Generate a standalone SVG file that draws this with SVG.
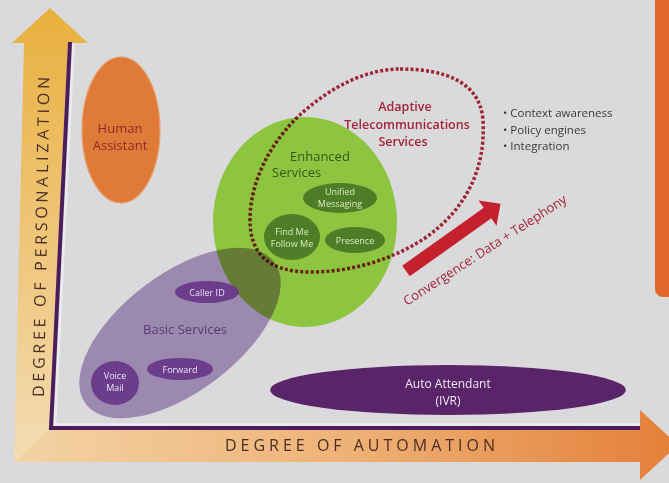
<svg xmlns="http://www.w3.org/2000/svg" width="669" height="483" viewBox="0 0 669 483">
  <defs>
    <linearGradient id="gradV" x1="0" y1="8" x2="0" y2="462" gradientUnits="userSpaceOnUse">
      <stop offset="0" stop-color="#e8b03e"/>
      <stop offset="0.55" stop-color="#efc77e"/>
      <stop offset="1" stop-color="#f4dcb4"/>
    </linearGradient>
    <linearGradient id="gradH" x1="14" y1="0" x2="678" y2="0" gradientUnits="userSpaceOnUse">
      <stop offset="0" stop-color="#f3d3a4"/>
      <stop offset="0.5" stop-color="#eeb277"/>
      <stop offset="1" stop-color="#e47f38"/>
    </linearGradient>
    <style>
      text { font-family: "Open Sans", "Liberation Sans", sans-serif; }
      .axis-label { font-size: 16px; fill: #4a2e24; }
      .big-node { font-size: 13px; }
      .small-node { font-size: 9px; text-anchor: middle; }
      .dark-green { fill: #4d7d26; }
      .dark-purple { fill: #6b3d8a; }
      .red-text { fill: #a4253a; }
    </style>
  </defs>

  <!-- background -->
  <rect x="0" y="0" width="669" height="483" fill="#dadadc"/>
  <rect x="655" y="-10" width="20" height="307" rx="8" fill="#e0662c"/>

  <!-- axes -->
  <g id="axis-personalization">
    <polygon points="12,43 50,8 88,43 68,43 49,430 14,462 24,43" fill="url(#gradV)"/>
    <text class="axis-label" transform="translate(44,397) rotate(-89)" textLength="320" lengthAdjust="spacing">DEGREE OF PERSONALIZATION</text>
  </g>
  <g id="axis-automation">
    <polygon points="14,462 49,430 640,430 640,410 678,445 640,480 640,462" fill="url(#gradH)"/>
    <text class="axis-label" x="225" y="451" textLength="270" lengthAdjust="spacing">DEGREE OF AUTOMATION</text>
  </g>
  <g id="axis-lines" fill="none">
    <path d="M73.5 44 L55 424.5 L640 424.5" stroke="#ececee" stroke-width="2.5"/>
    <path d="M70 42 L51 428 L640 428" stroke="#4b1d5c" stroke-width="4"/>
  </g>

  <!-- human assistant -->
  <g id="human-assistant">
    <ellipse cx="121" cy="130" rx="39" ry="73" fill="#e07a38" stroke="#e8a16f" stroke-width="1.2"/>
    <text class="big-node" x="120" y="133" text-anchor="middle" fill="#8a2b2b" font-size="12.5">Human</text>
    <text class="big-node" x="120" y="150" text-anchor="middle" fill="#8a2b2b" font-size="12.5">Assistant</text>
  </g>

  <!-- enhanced services -->
  <g id="enhanced-services">
    <ellipse cx="305" cy="222" rx="92" ry="105" fill="#8dc541"/>
    <text class="big-node" x="290" y="161" fill="#2f5a1c" font-size="13.5">Enhanced</text>
    <text class="big-node" x="272" y="177" fill="#2f5a1c" font-size="13.5">Services</text>
  </g>

  <!-- basic services (translucent, multiplied over green) -->
  <g id="basic-services">
    <ellipse cx="180" cy="333" rx="118" ry="59" transform="rotate(-37 180 333)" fill="#b6a0cc" style="mix-blend-mode:multiply"/>
    <text class="big-node" x="185" y="334" text-anchor="middle" fill="#5b3a78">Basic Services</text>
  </g>

  <g id="unified-messaging">
    <ellipse cx="340" cy="198" rx="37" ry="15" class="dark-green"/>
    <text class="small-node" x="340" y="195" fill="#d9ecc2">Unified</text>
    <text class="small-node" x="340" y="207" fill="#d9ecc2">Messaging</text>
  </g>
  <g id="find-me-follow-me">
    <ellipse cx="292" cy="237" rx="28" ry="23" class="dark-green"/>
    <text class="small-node" x="292" y="235" fill="#d9ecc2">Find Me</text>
    <text class="small-node" x="292" y="247" fill="#d9ecc2">Follow Me</text>
  </g>
  <g id="presence">
    <ellipse cx="355" cy="240" rx="30" ry="13" class="dark-green"/>
    <text class="small-node" x="355" y="243.5" fill="#d9ecc2">Presence</text>
  </g>

  <g id="caller-id">
    <ellipse cx="207" cy="292" rx="32" ry="11" class="dark-purple"/>
    <text class="small-node" x="207" y="295.5" fill="#ece2f4">Caller ID</text>
  </g>
  <g id="forward">
    <ellipse cx="180" cy="369" rx="33" ry="11" class="dark-purple"/>
    <text class="small-node" x="180" y="372.5" fill="#ece2f4">Forward</text>
  </g>
  <g id="voice-mail">
    <ellipse cx="115" cy="383" rx="24" ry="22" class="dark-purple"/>
    <text class="small-node" x="115" y="379" fill="#ece2f4">Voice</text>
    <text class="small-node" x="115" y="391" fill="#ece2f4">Mail</text>
  </g>

  <!-- auto attendant -->
  <g id="auto-attendant">
    <ellipse cx="448" cy="390" rx="178" ry="25" fill="#5a2468"/>
    <text x="448" y="388" text-anchor="middle" font-size="12" fill="#eee6f2">Auto Attendant</text>
    <text x="448" y="405" text-anchor="middle" font-size="12" fill="#eee6f2">(IVR)</text>
  </g>

  <!-- adaptive telecommunications services -->
  <g id="adaptive-services">
    <path d="M400 69 C445 69 480 82 483 120 C486 170 465 210 425 238 C395 258 355 272 310 272 C270 272 250 255 250 220 C250 180 272 140 302 113 C330 88 365 69 400 69 Z" fill="none" stroke="#b82a3a" stroke-width="3.5" stroke-dasharray="3 2.2" style="mix-blend-mode:multiply"/>
    <text class="red-text" x="405" y="111" text-anchor="middle" font-size="12.5" font-weight="600">Adaptive</text>
    <text class="red-text" x="407" y="128.5" text-anchor="middle" font-size="12.5" font-weight="600">Telecommunications</text>
    <text class="red-text" x="403" y="146" text-anchor="middle" font-size="12.5" font-weight="600">Services</text>
  </g>

  <g id="features" fill="#3a3a3c" font-size="11.5">
    <text x="503" y="117">• Context awareness</text>
    <text x="503" y="133.5">• Policy engines</text>
    <text x="503" y="150">• Integration</text>
  </g>

  <!-- convergence trend -->
  <g id="connectors">
    <polygon points="0,-6.5 100,-6.5 100,-15.5 116,0 100,15.5 100,6.5 0,6.5" fill="#c4202e" transform="translate(406,271) rotate(-35.4)"/>
  </g>
  <g id="convergence-label">
    <text class="red-text" transform="translate(407,306) rotate(-33)" font-size="13">Convergence: Data + Telephony</text>
  </g>
</svg>
